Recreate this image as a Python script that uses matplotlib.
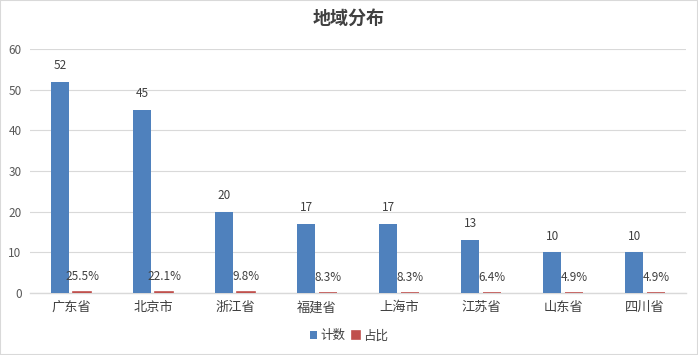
import matplotlib.pyplot as plt
import numpy as np

plt.rcParams['font.family'] = ['Noto Sans CJK SC', 'DejaVu Sans']

regions = ['广东省', '北京市', '浙江省', '福建省', '上海市', '江苏省', '山东省', '四川省']
counts = [52, 45, 20, 17, 17, 13, 10, 10]
shares = [0.255, 0.221, 0.098, 0.083, 0.083, 0.064, 0.049, 0.049]

blue = '#4F81BD'
red = '#C0504D'
txt = '#404040'

fig = plt.figure(figsize=(6.98, 3.55), dpi=100)
ax = fig.add_axes([0.043, 0.175, 0.940, 0.687])

x = np.arange(len(regions))
w = 0.22
off = 0.134
b1 = ax.bar(x - off, counts, w, color=blue, label='计数', zorder=3)
# edge line keeps the tiny share bars visible, like the original
b2 = ax.bar(x + off, shares, w, color=red, edgecolor=red, linewidth=1.2,
            label='占比', zorder=3)

for xi, v in zip(x, counts):
    ax.annotate(str(v), (xi - off, v), xytext=(0, 7), textcoords='offset points',
                ha='center', va='bottom', fontsize=8.5, color=txt)
for xi, v in zip(x, shares):
    ax.annotate(f'{v*100:.1f}%', (xi + off, v), xytext=(0, 6.5), textcoords='offset points',
                ha='center', va='bottom', fontsize=8.5, color=txt)

ax.set_xlim(-0.5, len(regions) - 0.5)
ax.set_ylim(0, 60)
ax.set_yticks(range(0, 61, 10))
ax.set_xticks(x)
ax.set_xticklabels(regions, fontsize=9.5, color=txt)
ax.tick_params(axis='y', labelsize=8.5, labelcolor='#595959', length=0, pad=6)
ax.tick_params(axis='x', length=0, pad=6)
ax.grid(axis='y', color='#D9D9D9', linewidth=0.8, zorder=0)
for s in ['top', 'right', 'left']:
    ax.spines[s].set_visible(False)
ax.spines['bottom'].set_color('#D9D9D9')
ax.spines['bottom'].set_linewidth(1.0)

fig.suptitle('地域分布', y=0.975, fontsize=13, fontweight='bold', color=txt)
fig.legend(handles=[b1, b2], loc='center', bbox_to_anchor=(0.5, 0.054), ncol=2,
           frameon=False, fontsize=9, handlelength=0.6, handleheight=0.6,
           handletextpad=0.3, columnspacing=0.5, labelcolor=txt)

fig.patches.append(plt.Rectangle((0, 0), 1, 1, transform=fig.transFigure,
                                 fill=False, edgecolor='#D9D9D9', linewidth=1.5))

fig.savefig('out.png', dpi=100)
